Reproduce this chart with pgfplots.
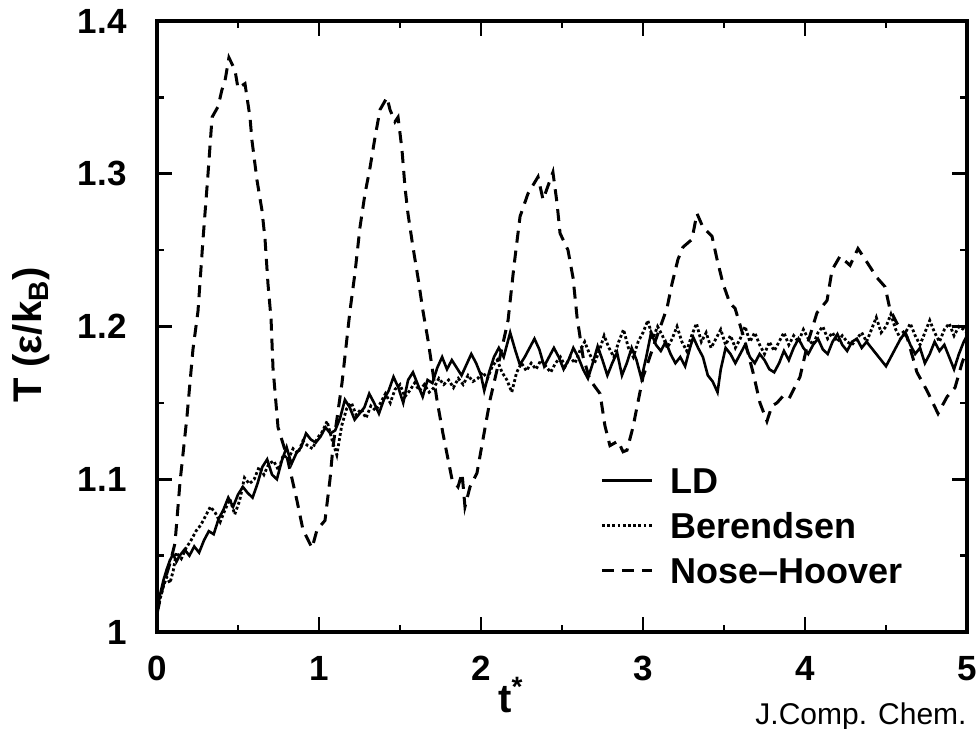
\documentclass[border=0pt]{standalone}
\usepackage{pgfplots}
\pgfplotsset{compat=1.18}
\usepackage{fontspec}
\setmainfont{Liberation Sans}
\begin{document}
\begin{tikzpicture}
\useasboundingbox (-78.5pt,-48pt) rectangle (410pt,316pt);
\begin{axis}[
  at={(0,0)}, anchor=south west,
  scale only axis, width=405pt, height=305.5pt,
  xmin=0, xmax=5, ymin=1, ymax=1.4,
  xtick={0,1,2,3,4,5}, minor x tick num=1,
  ytick={1,1.1,1.2,1.3,1.4}, yticklabels={1,1.1,1.2,1.3,1.4},
  minor y tick num=1,
  tick align=inside, tick pos=both,
  major tick length=7.5pt, minor tick length=3.5pt,
  every tick/.style={black, line width=1.3pt},
  axis line style={line width=1.6pt},
  /pgf/number format/assume math mode=true,
  ticklabel style={font=\fontsize{17.5}{20}\selectfont\bfseries, inner sep=0pt},
  xticklabel shift=12pt, yticklabel shift=15pt,
  ylabel={T (ε/k\textsubscript{B})},
  ylabel style={at={(axis description cs:-0.155,0.486)}, anchor=center, font=\fontsize{20}{22}\selectfont\bfseries},
  xlabel={t\textsuperscript{*}},
  xlabel style={at={(axis description cs:0.437,-0.131)}, anchor=base, font=\fontsize{20}{22}\selectfont\bfseries},
  legend style={at={(axis description cs:0.547,0.27)}, anchor=north west, draw=none, fill=none, inner sep=0pt,
    font=\fontsize{18}{20}\selectfont\bfseries, row sep=9.5pt, column sep=8.5pt,
    nodes={inner sep=0pt, text height=13pt, text depth=0pt}},
  legend cell align=left,
  legend image code/.code={\draw[#1] (0pt,0pt) -- (25pt,0pt);},
]
\addplot[black, line width=1.3pt] coordinates {
(0.00,1.012)(0.02,1.025)(0.04,1.034)(0.06,1.041)(0.08,1.047)(0.10,1.051)(0.12,1.046)(0.14,1.050)
(0.17,1.054)(0.20,1.050)(0.23,1.056)(0.26,1.052)(0.29,1.060)(0.32,1.066)(0.35,1.064)(0.38,1.074)
(0.41,1.080)(0.44,1.088)(0.47,1.082)(0.50,1.090)(0.53,1.095)(0.56,1.091)(0.59,1.088)(0.62,1.097)
(0.65,1.108)(0.68,1.113)(0.71,1.103)(0.74,1.100)(0.77,1.112)(0.80,1.121)(0.83,1.110)(0.86,1.117)
(0.89,1.121)(0.92,1.130)(0.95,1.126)(0.98,1.124)(1.01,1.128)(1.04,1.134)(1.07,1.130)(1.10,1.132)
(1.13,1.140)(1.16,1.152)(1.19,1.147)(1.22,1.139)(1.25,1.143)(1.28,1.147)(1.31,1.156)(1.34,1.150)
(1.37,1.143)(1.40,1.152)(1.43,1.158)(1.46,1.167)(1.49,1.160)(1.52,1.150)(1.55,1.165)(1.58,1.170)
(1.61,1.162)(1.64,1.154)(1.67,1.165)(1.70,1.163)(1.73,1.173)(1.76,1.180)(1.79,1.172)(1.82,1.178)
(1.85,1.173)(1.88,1.168)(1.91,1.175)(1.94,1.182)(1.97,1.176)(2.00,1.168)(2.02,1.158)(2.05,1.170)
(2.08,1.180)(2.11,1.186)(2.14,1.180)(2.18,1.196)(2.21,1.185)(2.24,1.175)(2.27,1.180)(2.30,1.186)
(2.33,1.192)(2.36,1.185)(2.39,1.174)(2.42,1.180)(2.45,1.186)(2.48,1.180)(2.51,1.172)(2.54,1.178)
(2.57,1.186)(2.60,1.180)(2.63,1.172)(2.66,1.166)(2.69,1.176)(2.72,1.187)(2.75,1.178)(2.78,1.168)
(2.81,1.176)(2.84,1.183)(2.87,1.168)(2.90,1.176)(2.93,1.186)(2.96,1.178)(2.99,1.166)(3.02,1.180)
(3.05,1.196)(3.08,1.188)(3.11,1.184)(3.14,1.190)(3.17,1.182)(3.20,1.176)(3.23,1.180)(3.26,1.174)
(3.29,1.186)(3.31,1.193)(3.34,1.186)(3.37,1.180)(3.40,1.168)(3.43,1.164)(3.46,1.157)(3.48,1.172)
(3.51,1.186)(3.54,1.182)(3.57,1.176)(3.60,1.182)(3.63,1.188)(3.66,1.180)(3.69,1.176)(3.72,1.182)
(3.75,1.178)(3.78,1.172)(3.81,1.170)(3.84,1.176)(3.87,1.184)(3.90,1.178)(3.93,1.186)(3.96,1.192)
(3.99,1.186)(4.02,1.182)(4.05,1.188)(4.08,1.192)(4.11,1.185)(4.14,1.182)(4.17,1.190)(4.20,1.195)
(4.23,1.188)(4.26,1.184)(4.29,1.190)(4.32,1.192)(4.35,1.186)(4.38,1.190)(4.41,1.186)(4.44,1.182)
(4.47,1.178)(4.50,1.174)(4.53,1.180)(4.56,1.186)(4.59,1.192)(4.62,1.196)(4.65,1.188)(4.68,1.182)
(4.71,1.186)(4.74,1.176)(4.77,1.182)(4.80,1.190)(4.83,1.184)(4.86,1.188)(4.89,1.180)(4.92,1.172)
(4.95,1.182)(4.98,1.190)(5.00,1.194)
};
\addlegendentry{LD}
\addplot[black, line width=1.4pt, dash pattern=on 1.4pt off 1.2pt] coordinates {
(0.00,1.012)(0.02,1.022)(0.04,1.030)(0.06,1.036)(0.08,1.032)(0.10,1.040)(0.12,1.052)(0.15,1.048)
(0.18,1.055)(0.21,1.060)(0.24,1.066)(0.27,1.070)(0.30,1.076)(0.33,1.082)(0.36,1.078)(0.39,1.072)
(0.42,1.080)(0.45,1.087)(0.48,1.077)(0.51,1.086)(0.54,1.101)(0.57,1.097)(0.60,1.100)(0.63,1.108)
(0.66,1.103)(0.69,1.110)(0.72,1.112)(0.75,1.106)(0.78,1.116)(0.81,1.113)(0.84,1.120)(0.87,1.117)
(0.90,1.125)(0.93,1.122)(0.96,1.120)(0.99,1.127)(1.02,1.131)(1.05,1.138)(1.08,1.126)(1.11,1.116)
(1.14,1.135)(1.17,1.146)(1.20,1.150)(1.23,1.142)(1.26,1.146)(1.29,1.140)(1.32,1.148)(1.35,1.145)
(1.38,1.150)(1.41,1.156)(1.44,1.150)(1.47,1.159)(1.50,1.162)(1.53,1.154)(1.56,1.158)(1.59,1.163)
(1.62,1.158)(1.65,1.162)(1.68,1.157)(1.71,1.160)(1.74,1.166)(1.77,1.162)(1.80,1.165)(1.83,1.160)
(1.86,1.166)(1.89,1.162)(1.92,1.168)(1.95,1.164)(1.98,1.166)(2.01,1.170)(2.04,1.166)(2.07,1.174)
(2.10,1.178)(2.13,1.170)(2.16,1.165)(2.19,1.157)(2.22,1.170)(2.25,1.176)(2.28,1.171)(2.31,1.176)
(2.34,1.172)(2.37,1.178)(2.40,1.174)(2.43,1.170)(2.46,1.176)(2.49,1.180)(2.52,1.174)(2.55,1.180)
(2.58,1.176)(2.61,1.184)(2.64,1.190)(2.67,1.182)(2.70,1.176)(2.73,1.184)(2.76,1.194)(2.79,1.186)
(2.82,1.180)(2.85,1.190)(2.88,1.198)(2.91,1.186)(2.94,1.180)(2.97,1.190)(3.00,1.196)(3.03,1.204)
(3.06,1.192)(3.09,1.200)(3.12,1.194)(3.15,1.186)(3.18,1.192)(3.21,1.200)(3.24,1.190)(3.27,1.184)
(3.30,1.194)(3.33,1.202)(3.36,1.190)(3.39,1.196)(3.42,1.186)(3.45,1.192)(3.48,1.198)(3.51,1.188)
(3.54,1.194)(3.57,1.186)(3.60,1.192)(3.63,1.200)(3.66,1.190)(3.69,1.196)(3.72,1.188)(3.75,1.182)
(3.78,1.190)(3.81,1.184)(3.84,1.190)(3.87,1.196)(3.90,1.188)(3.93,1.194)(3.96,1.190)(3.99,1.198)
(4.02,1.192)(4.05,1.188)(4.08,1.196)(4.11,1.200)(4.14,1.192)(4.17,1.196)(4.20,1.190)(4.23,1.194)
(4.26,1.190)(4.29,1.188)(4.32,1.192)(4.35,1.196)(4.38,1.190)(4.41,1.198)(4.44,1.206)(4.47,1.196)
(4.50,1.200)(4.53,1.208)(4.56,1.198)(4.59,1.192)(4.62,1.196)(4.65,1.202)(4.68,1.194)(4.71,1.188)
(4.74,1.196)(4.77,1.204)(4.80,1.196)(4.83,1.190)(4.86,1.198)(4.89,1.202)(4.92,1.194)(4.95,1.200)
(4.98,1.198)(5.00,1.196)
};
\addlegendentry{Berendsen}
\addplot[black, line width=1.5pt, dash pattern=on 6pt off 4pt] coordinates {
(0.000,1.012)(0.037,1.030)(0.080,1.045)(0.111,1.058)(0.142,1.098)(0.185,1.141)(0.222,1.185)
(0.253,1.210)(0.284,1.257)(0.315,1.300)(0.340,1.337)(0.377,1.344)(0.401,1.355)(0.420,1.361)
(0.444,1.376)(0.481,1.368)(0.500,1.356)(0.543,1.359)(0.574,1.337)(0.586,1.322)(0.617,1.296)
(0.648,1.276)(0.667,1.257)(0.685,1.228)(0.704,1.205)(0.716,1.173)(0.747,1.134)(0.802,1.115)
(0.864,1.086)(0.901,1.067)(0.957,1.055)(0.988,1.067)(1.037,1.073)(1.068,1.100)(1.086,1.121)
(1.142,1.163)(1.191,1.210)(1.222,1.235)(1.253,1.265)(1.284,1.287)(1.315,1.304)(1.346,1.324)
(1.377,1.342)(1.420,1.350)(1.438,1.342)(1.469,1.334)(1.488,1.337)(1.512,1.316)(1.531,1.291)
(1.549,1.274)(1.580,1.252)(1.611,1.232)(1.642,1.210)(1.673,1.191)(1.728,1.152)(1.765,1.130)
(1.821,1.100)(1.858,1.095)(1.883,1.104)(1.901,1.082)(1.932,1.095)(1.975,1.104)(2.012,1.126)
(2.056,1.152)(2.117,1.180)(2.167,1.204)(2.204,1.240)(2.241,1.272)(2.290,1.287)(2.352,1.298)
(2.383,1.283)(2.444,1.301)(2.469,1.281)(2.488,1.261)(2.537,1.250)(2.568,1.232)(2.593,1.206)
(2.630,1.180)(2.673,1.165)(2.735,1.156)(2.765,1.135)(2.796,1.122)(2.846,1.125)(2.877,1.118)
(2.901,1.119)(2.938,1.134)(3.000,1.167)(3.074,1.190)(3.148,1.212)(3.179,1.228)(3.216,1.244)
(3.247,1.252)(3.302,1.257)(3.333,1.274)(3.370,1.265)(3.426,1.259)(3.457,1.244)(3.494,1.228)
(3.537,1.215)(3.568,1.212)(3.630,1.190)(3.679,1.170)(3.722,1.150)(3.765,1.138)(3.796,1.148)
(3.827,1.150)(3.877,1.156)(3.907,1.154)(3.969,1.167)(4.019,1.190)(4.074,1.209)(4.136,1.217)
(4.167,1.237)(4.216,1.246)(4.278,1.240)(4.327,1.251)(4.383,1.242)(4.444,1.232)(4.494,1.226)
(4.525,1.211)(4.568,1.202)(4.630,1.193)(4.691,1.170)(4.753,1.158)(4.821,1.143)(4.877,1.154)
(4.926,1.160)(4.969,1.176)(5.000,1.185)
};
\addlegendentry{Nose--Hoover}
\end{axis}
\node[anchor=north west, inner sep=0pt, font=\fontsize{15}{17}\selectfont] at (299pt,-35pt) {J.Comp. Chem.};
\end{tikzpicture}
\end{document}
